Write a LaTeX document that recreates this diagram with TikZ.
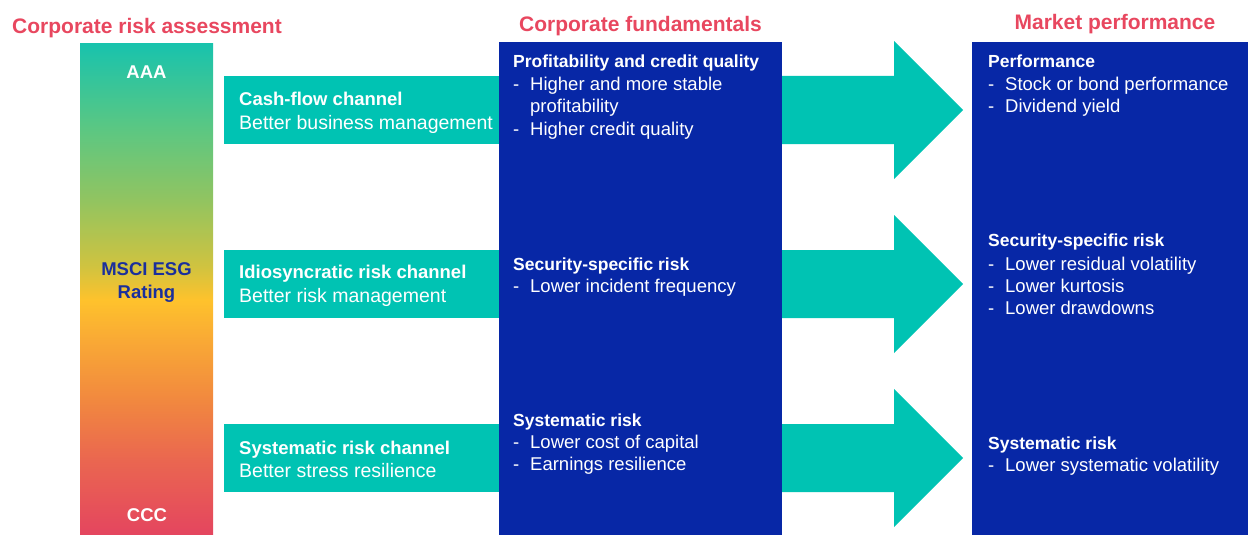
\documentclass[tikz,border=0pt]{standalone}
\usepackage{fontspec}
\setmainfont{Liberation Sans}
\usetikzlibrary{calc}

\definecolor{titlered}{HTML}{E8475F}
\definecolor{tealfill}{HTML}{00C3B3}
\definecolor{deepblue}{HTML}{0727A6}
\definecolor{ratingblue}{HTML}{1A2F9C}
% colour stops of the rating bar, bottom (CCC) to top (AAA)
\definecolor{gA}{HTML}{E4455F}
\definecolor{gB}{HTML}{EA6650}
\definecolor{gC}{HTML}{F1883F}
\definecolor{gD}{HTML}{F9A935}
\definecolor{gE}{HTML}{FEC22C}
\definecolor{gF}{HTML}{CFC340}
\definecolor{gG}{HTML}{92C460}
\definecolor{gH}{HTML}{5CC782}
\definecolor{gI}{HTML}{18C3AD}

\pgfdeclareverticalshading{esgbar}{100bp}{%
  color(0bp)=(gA); color(25bp)=(gA); color(32.6bp)=(gB); color(38.7bp)=(gC);
  color(44.8bp)=(gD); color(48.9bp)=(gE); color(52.4bp)=(gF); color(59bp)=(gG);
  color(66.2bp)=(gH); color(75bp)=(gI); color(100bp)=(gI)}

\tikzset{
  coltitle/.style={anchor=base, inner sep=0, text=titlered,
    font=\bfseries\fontsize{21}{25}\selectfont},
  chbox/.style={fill=tealfill, draw=none, anchor=north west, inner sep=0,
    minimum width=290pt, minimum height=68pt},
  chhead/.style={anchor=base west, inner sep=0, text=white,
    font=\bfseries\fontsize{18.5}{22}\selectfont},
  chline/.style={anchor=base west, inner sep=0, text=white,
    font=\fontsize{19.5}{22}\selectfont},
  panel/.style={fill=deepblue, draw=none, anchor=north west, inner sep=0},
  phead/.style={anchor=base west, inner sep=0, text=white,
    font=\bfseries\fontsize{17.5}{22}\selectfont},
  pline/.style={anchor=base west, inner sep=0, text=white,
    font=\fontsize{18.5}{22}\selectfont},
  barlabel/.style={anchor=base, inner sep=0,
    font=\bfseries\fontsize{18.5}{23}\selectfont},
  flow/.style={fill=tealfill, draw=none}
}

% dash in front of a list item
\newcommand{\itemdash}{\makebox[17pt][l]{-}}
% wide block arrow centred on height #1 (shaft 68, head 138)
\newcommand{\flowarrow}[1]{%
  \fill[flow] (770,{#1-34}) -- (894,{#1-34}) -- (894,{#1-69}) -- (963,#1)
    -- (894,{#1+69}) -- (894,{#1+34}) -- (770,{#1+34}) -- cycle;}

\begin{document}
\begin{tikzpicture}[x=1pt,y=-1pt]
\useasboundingbox (0,0) rectangle (1248,535);

% column titles
\node[coltitle, anchor=base west] (t1) at (12,34) {Corporate risk assessment};
\node[coltitle] (t2) at (640.5,31.5) {Corporate fundamentals};
\node[coltitle] (t3) at (1115,29.5) {Market performance};

% rating bar
\node[shade, shading=esgbar, anchor=north west, inner sep=0,
  minimum width=133pt, minimum height=492pt] (bar) at (80,43) {};
\node[barlabel, text=white] (aaa) at (146.5,78) {AAA};
\node[barlabel, text=ratingblue] (msci) at (146.5,275.5) {MSCI ESG};
\node[barlabel, text=ratingblue] (rating) at (146.5,298.5) {Rating};
\node[barlabel, text=white] (ccc) at (147,521) {CCC};

% transmission channels
\node[chbox] (ch1) at (224,76) {};
\node[chbox] (ch2) at (224,250) {};
\node[chbox] (ch3) at (224,424) {};
\node[chhead] (ch1a) at (239,105) {Cash-flow channel};
\node[chline] (ch1b) at (239,129.3) {Better business management};
\node[chhead] (ch2a) at (239,278.3) {Idiosyncratic risk channel};
\node[chline] (ch2b) at (239,302.3) {Better risk management};
\node[chhead] (ch3a) at (239,454) {Systematic risk channel};
\node[chline] (ch3b) at (239,477.5) {Better stress resilience};

% arrows from fundamentals to market performance
\flowarrow{110}
\flowarrow{284}
\flowarrow{458}

% corporate fundamentals panel
\node[panel, minimum width=283pt, minimum height=493pt] (fund) at (499,42) {};
\node[phead] (f1) at (513,67) {Profitability and credit quality};
\node[pline] (f1a) at (513,90) {\itemdash Higher and more stable};
\node[pline] (f1b) at (530,112.5) {profitability};
\node[pline] (f1c) at (513,135) {\itemdash Higher credit quality};
\node[phead] (f2) at (513,270) {Security-specific risk};
\node[pline] (f2a) at (513,292) {\itemdash Lower incident frequency};
\node[phead] (f3) at (513,426) {Systematic risk};
\node[pline] (f3a) at (513,448.5) {\itemdash Lower cost of capital};
\node[pline] (f3b) at (513,470.5) {\itemdash Earnings resilience};

% market performance panel
\node[panel, minimum width=276pt, minimum height=493pt] (mkt) at (972,42) {};
\node[phead] (m1) at (988,67) {Performance};
\node[pline] (m1a) at (988,90.5) {\itemdash Stock or bond performance};
\node[pline] (m1b) at (988,112.5) {\itemdash Dividend yield};
\node[phead] (m2) at (988,246.7) {Security-specific risk};
\node[pline] (m2a) at (988,270) {\itemdash Lower residual volatility};
\node[pline] (m2b) at (988,292.3) {\itemdash Lower kurtosis};
\node[pline] (m2c) at (988,314.5) {\itemdash Lower drawdowns};
\node[phead] (m3) at (988,449) {Systematic risk};
\node[pline] (m3a) at (988,471) {\itemdash Lower systematic volatility};
\end{tikzpicture}
\end{document}
